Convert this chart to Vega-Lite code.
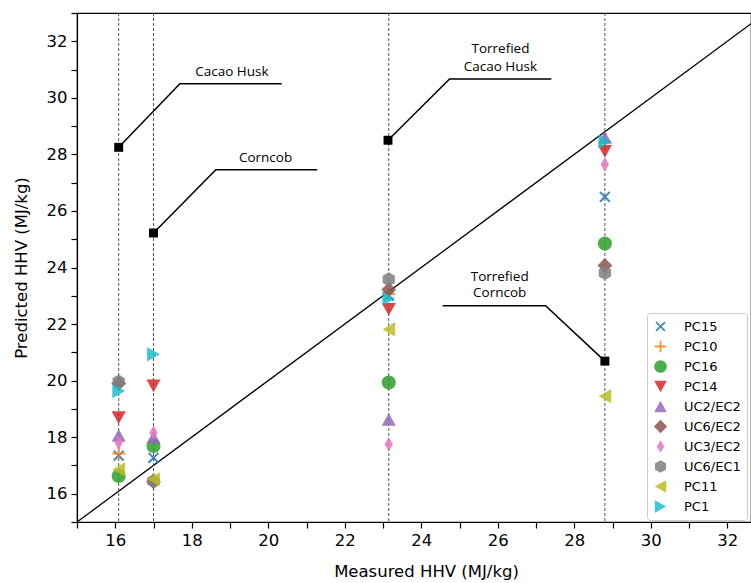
{
  "$schema": "https://vega.github.io/schema/vega-lite/v6.json",
  "width": 674,
  "height": 509,
  "autosize": "none",
  "padding": {"left": 77, "top": 13, "right": 0, "bottom": 61},
  "background": "white",
  "config": {
    "view": {"stroke": "black", "strokeWidth": 1.2},
    "axis": {
      "domainColor": "black", "domainWidth": 1.2, "tickColor": "black", "tickWidth": 1.2, "tickSize": 6,
      "labelColor": "black", "labelFont": "DejaVu Sans", "labelFontSize": 16.5,
      "titleColor": "black", "titleFont": "DejaVu Sans", "titleFontSize": 16.5, "titleFontWeight": "normal",
      "grid": false, "labelPadding": 4, "labelOverlap": false, "labelFlush": false
    },
    "legend": {
      "labelFont": "DejaVu Sans", "labelFontSize": 13, "labelColor": "black"
    }
  },
  "datasets": {
    "pts": [
      {"series": "PC15", "x": 16.09, "y": 17.35},
      {"series": "PC15", "x": 17.0, "y": 17.27},
      {"series": "PC15", "x": 23.15, "y": 23.0},
      {"series": "PC15", "x": 28.8, "y": 26.5},
      {"series": "PC10", "x": 16.09, "y": 17.42},
      {"series": "PC10", "x": 17.0, "y": 16.5},
      {"series": "PC10", "x": 23.15, "y": 23.05},
      {"series": "PC10", "x": 28.8, "y": 28.45},
      {"series": "PC16", "x": 16.09, "y": 16.63},
      {"series": "PC16", "x": 17.0, "y": 17.69},
      {"series": "PC16", "x": 23.15, "y": 19.93},
      {"series": "PC16", "x": 28.8, "y": 24.85},
      {"series": "PC14", "x": 16.09, "y": 18.69},
      {"series": "PC14", "x": 17.0, "y": 19.81},
      {"series": "PC14", "x": 23.15, "y": 22.52},
      {"series": "PC14", "x": 28.8, "y": 28.11},
      {"series": "UC2/EC2", "x": 16.09, "y": 18.06},
      {"series": "UC2/EC2", "x": 17.0, "y": 18.0},
      {"series": "UC2/EC2", "x": 23.15, "y": 18.63},
      {"series": "UC2/EC2", "x": 28.8, "y": 28.6},
      {"series": "UC6/EC2", "x": 16.09, "y": 19.9},
      {"series": "UC6/EC2", "x": 17.0, "y": 16.42},
      {"series": "UC6/EC2", "x": 23.15, "y": 23.22},
      {"series": "UC6/EC2", "x": 28.8, "y": 24.07},
      {"series": "UC3/EC2", "x": 16.09, "y": 17.8},
      {"series": "UC3/EC2", "x": 17.0, "y": 18.16},
      {"series": "UC3/EC2", "x": 23.15, "y": 17.75},
      {"series": "UC3/EC2", "x": 28.8, "y": 27.64},
      {"series": "UC6/EC1", "x": 16.09, "y": 19.97},
      {"series": "UC6/EC1", "x": 17.0, "y": 16.45},
      {"series": "UC6/EC1", "x": 23.15, "y": 23.58},
      {"series": "UC6/EC1", "x": 28.8, "y": 23.81},
      {"series": "PC11", "x": 16.09, "y": 16.86},
      {"series": "PC11", "x": 17.0, "y": 16.51},
      {"series": "PC11", "x": 23.15, "y": 21.81},
      {"series": "PC11", "x": 28.8, "y": 19.45},
      {"series": "PC1", "x": 16.09, "y": 19.63},
      {"series": "PC1", "x": 17.0, "y": 20.93},
      {"series": "PC1", "x": 23.15, "y": 22.9},
      {"series": "PC1", "x": 28.8, "y": 28.45}
    ]
  },
  "layer": [
    {
      "data": {"values": [{"x": 15, "y": 15}, {"x": 33, "y": 33}]},
      "mark": {"type": "line", "color": "black", "strokeWidth": 1.3, "clip": true},
      "encoding": {
        "x": {"field": "x", "type": "quantitative", "scale": {"domain": [15, 32.62], "nice": false, "zero": false},
          "axis": {"title": "Measured HHV (MJ/kg)", "values": [15,16,17,18,19,20,21,22,23,24,25,26,27,28,29,30,31,32], "tickCount": 60, "format": "d",
            "labelExpr": "datum.value % 2 == 0 ? datum.label : ''", "titlePadding": 15, "titleX": 349}},
        "y": {"field": "y", "type": "quantitative", "scale": {"domain": [15, 33], "nice": false, "zero": false},
          "axis": {"title": "Predicted HHV (MJ/kg)", "values": [15,16,17,18,19,20,21,22,23,24,25,26,27,28,29,30,31,32,33], "tickCount": 60, "format": "d",
            "labelExpr": "datum.value % 2 == 0 ? datum.label : ''", "titlePadding": 17}}
      }
    },
    {
      "data": {"values": [{"x": 16.09}, {"x": 17.0}, {"x": 23.15}, {"x": 28.8}]},
      "mark": {"type": "rule", "color": "#555555", "strokeWidth": 1, "strokeDash": [3, 2]},
      "encoding": {"x": {"field": "x", "type": "quantitative"}}
    },
    {
      "data": {"values": [
        {"g": "a", "o": 1, "x": 16.09, "y": 28.25},
        {"g": "a", "o": 2, "x": 17.69, "y": 30.5},
        {"g": "a", "o": 3, "x": 20.35, "y": 30.5},
        {"g": "b", "o": 1, "x": 17.0, "y": 25.22},
        {"g": "b", "o": 2, "x": 18.63, "y": 27.46},
        {"g": "b", "o": 3, "x": 21.28, "y": 27.46},
        {"g": "c", "o": 1, "x": 23.13, "y": 28.5},
        {"g": "c", "o": 2, "x": 24.74, "y": 30.67},
        {"g": "c", "o": 3, "x": 27.4, "y": 30.67},
        {"g": "d", "o": 1, "x": 28.8, "y": 20.69},
        {"g": "d", "o": 2, "x": 27.25, "y": 22.65},
        {"g": "d", "o": 3, "x": 24.56, "y": 22.65}
      ]},
      "mark": {"type": "line", "color": "black", "strokeWidth": 1.5},
      "encoding": {
        "x": {"field": "x", "type": "quantitative"},
        "y": {"field": "y", "type": "quantitative"},
        "detail": {"field": "g"},
        "order": {"field": "o", "type": "quantitative"}
      }
    },
    {
      "data": {"values": [
        {"x": 16.09, "y": 28.25}, {"x": 17.0, "y": 25.22}, {"x": 23.13, "y": 28.5}, {"x": 28.8, "y": 20.69}
      ]},
      "mark": {"type": "point", "shape": "square", "filled": true, "color": "black", "opacity": 1, "size": 80},
      "encoding": {
        "x": {"field": "x", "type": "quantitative"},
        "y": {"field": "y", "type": "quantitative"}
      }
    },
    {
      "data": {"name": "pts"},
      "mark": {"type": "point", "filled": true, "opacity": 0.85, "size": 200, "strokeWidth": 0},
      "encoding": {
        "x": {"field": "x", "type": "quantitative"},
        "y": {"field": "y", "type": "quantitative"},
        "color": {"field": "series", "type": "nominal",
          "scale": {"domain": ["PC15","PC10","PC16","PC14","UC2/EC2","UC6/EC2","UC3/EC2","UC6/EC1","PC11","PC1"],
            "range": ["#1f77b4","#ff7f0e","#2ca02c","#d62728","#9467bd","#8c564b","#e377c2","#7f7f7f","#bcbd22","#17becf"]},
          "legend": {"title": null, "orient": "none", "legendX": 570, "legendY": 300, "strokeColor": "#cccccc", "fillColor": "white",
            "padding": 6, "cornerRadius": 3, "symbolSize": 160, "rowPadding": 5, "labelOffset": 16, "symbolOpacity": 0.85}},
        "shape": {"field": "series", "type": "nominal",
          "scale": {"domain": ["PC15","PC10","PC16","PC14","UC2/EC2","UC6/EC2","UC3/EC2","UC6/EC1","PC11","PC1"],
            "range": [
              "M-0.8,-0.6L-0.6,-0.8L0,-0.2L0.6,-0.8L0.8,-0.6L0.2,0L0.8,0.6L0.6,0.8L0,0.2L-0.6,0.8L-0.8,0.6L-0.2,0Z",
              "M-0.14,-0.9L0.14,-0.9L0.14,-0.14L0.9,-0.14L0.9,0.14L0.14,0.14L0.14,0.9L-0.14,0.9L-0.14,0.14L-0.9,0.14L-0.9,-0.14L-0.14,-0.14Z",
              "circle",
              "M-1,-0.9L1,-0.9L0,0.9Z",
              "M-1,0.9L1,0.9L0,-0.9Z",
              "M0,-1.05L1.05,0L0,1.05L-1.05,0Z",
              "M0,-1L0.6,0L0,1L-0.6,0Z",
              "M0,-1L0.866,-0.5L0.866,0.5L0,1L-0.866,0.5L-0.866,-0.5Z",
              "M0.9,-1L0.9,1L-0.9,0Z",
              "M-0.9,-1L-0.9,1L0.9,0Z"
            ]},
          "legend": null}
      }
    },
    {
      "data": {"values": [
        {"t": "Cacao Husk", "x": 19.05, "y": 30.92},
        {"t": "Corncob", "x": 19.93, "y": 27.88},
        {"t": "Torrefied", "x": 26.07, "y": 31.72},
        {"t": "Cacao Husk", "x": 26.07, "y": 31.1},
        {"t": "Torrefied", "x": 26.05, "y": 23.68},
        {"t": "Corncob", "x": 26.05, "y": 23.09}
      ]},
      "mark": {"type": "text", "font": "Open Sans", "fontSize": 13.5, "color": "black", "align": "center", "baseline": "middle"},
      "encoding": {
        "x": {"field": "x", "type": "quantitative"},
        "y": {"field": "y", "type": "quantitative"},
        "text": {"field": "t"}
      }
    }
  ]
}
